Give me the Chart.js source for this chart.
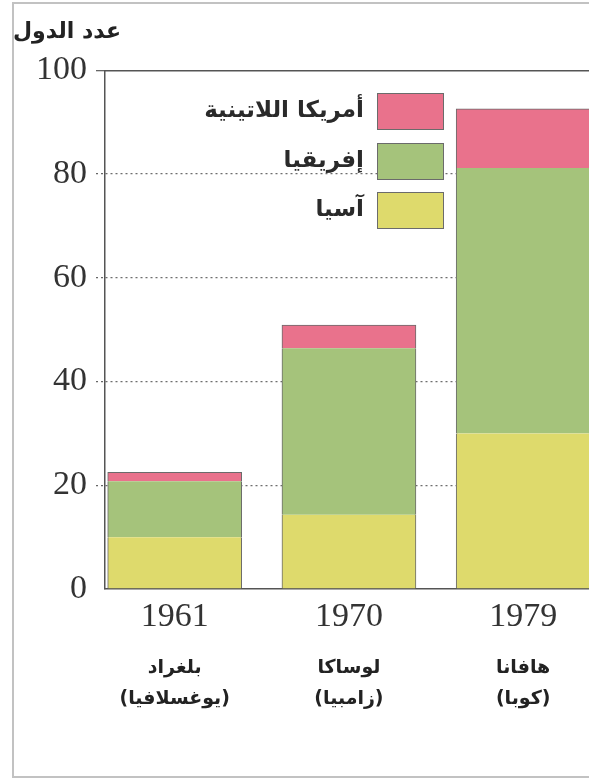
<!DOCTYPE html>
<html lang="ar">
<head>
    <meta charset="UTF-8">
    <meta name="viewport" content="width=device-width, initial-scale=1.0">
    <title>عدد الدول</title>
    <script src="https://cdn.jsdelivr.net/npm/chart.js"></script>
    <style>
        html, body {
            margin: 0;
            padding: 0;
            background: #fff;
            overflow: hidden;
        }

        .wrap {
            position: relative;
            width: 589px;
            height: 779px;
            overflow: hidden;
        }

        .frame {
            position: absolute;
            left: 12px;
            top: 2px;
            width: 700px;
            height: 772px;
            border: 2px solid #c2c2c2;
        }

        #chart {
            position: absolute;
            left: 0;
            top: 0;
        }

        .legend-row {
            position: absolute;
            left: 0;
            width: 444px;
            height: 37px;
        }

        .legend-row .txt {
            position: absolute;
            right: 80px;
            top: 0;
            line-height: 32px;
            font-family: 'DejaVu Sans', sans-serif;
            font-size: 23px;
            font-weight: bold;
            color: #2a2a2a;
            white-space: nowrap;
        }

        .legend-row .box {
            position: absolute;
            left: 377px;
            top: 0;
            width: 65px;
            height: 35px;
            border: 1px solid #6b6b6b;
        }
    </style>
</head>

<body>
    <div class="wrap">
        <div class="frame"></div>
        <canvas id="chart" width="589" height="779"></canvas>
        <div id="legend"></div>
    </div>

    <script>
        // data
        const years = [1961, 1970, 1979];
        const cities = ['بلغراد', 'لوساكا', 'هافانا'];
        const countries = ['(يوغسلافيا)', '(زامبيا)', '(كوبا)'];
        const asia = [10, 14.3, 30];
        const africa = [10.8, 32.1, 51.2];
        const latinAmerica = [1.7, 4.5, 11.4];

        const serif = "'Liberation Serif', 'DejaVu Serif', serif";
        const arabic = "'DejaVu Sans', sans-serif";
        const xMin = 1957.4;
        const xMax = 1982.4;

        function points(values) {
            return values.map((v, i) => ({ x: years[i], y: v }));
        }

        function yearTicks(scale) {
            scale.ticks = years.map(v => ({ value: v }));
        }

        const sides = { top: 0, right: 1, bottom: 0, left: 1 };

        const chart = new Chart(document.getElementById('chart'), {
            type: 'bar',
            data: {
                datasets: [
                    {
                        label: 'آسيا',
                        data: points(asia),
                        backgroundColor: '#DEDA6C',
                        borderColor: '#6b6b6b',
                        borderWidth: sides,
                        borderSkipped: false
                    },
                    {
                        label: 'إفريقيا',
                        data: points(africa),
                        backgroundColor: '#A5C37B',
                        borderColor: '#6b6b6b',
                        borderWidth: sides,
                        borderSkipped: false
                    },
                    {
                        label: 'أمريكا اللاتينية',
                        data: points(latinAmerica),
                        backgroundColor: '#E9728C',
                        borderColor: '#6b6b6b',
                        borderWidth: { top: 1, right: 1, bottom: 0, left: 1 },
                        borderSkipped: false
                    }
                ]
            },
            options: {
                responsive: false,
                animation: false,
                barThickness: 134,
                layout: { padding: { left: 13, right: 0, top: 0, bottom: 0 } },
                plugins: {
                    legend: { display: false },
                    tooltip: { enabled: false },
                    title: {
                        display: true,
                        text: 'عدد الدول',
                        align: 'start',
                        color: '#222',
                        font: { family: arabic, size: 22, weight: 'bold' },
                        padding: { top: 19, bottom: 25 }
                    }
                },
                scales: {
                    x: {
                        type: 'linear',
                        position: 'bottom',
                        stacked: true,
                        offset: false,
                        min: xMin,
                        max: xMax,
                        weight: 0,
                        afterBuildTicks: yearTicks,
                        afterFit: s => { s.height = 40; },
                        grid: { display: false, drawTicks: false },
                        border: { display: true, color: '#555', width: 1.5 },
                        ticks: {
                            padding: 8,
                            maxRotation: 0,
                            autoSkip: false,
                            color: '#333',
                            font: { family: serif, size: 34 },
                            callback: v => String(v)
                        }
                    },
                    places: {
                        type: 'linear',
                        position: 'bottom',
                        offset: false,
                        min: xMin,
                        max: xMax,
                        weight: 1,
                        afterBuildTicks: yearTicks,
                        afterFit: s => { s.height = 150; },
                        grid: { display: false, drawTicks: false },
                        border: { display: false },
                        ticks: {
                            padding: 23,
                            maxRotation: 0,
                            autoSkip: false,
                            color: '#222',
                            font: { family: arabic, size: 19, weight: 'bold', lineHeight: 1.65 },
                            callback: (v, i) => [cities[i], countries[i]]
                        }
                    },
                    top: {
                        type: 'linear',
                        position: 'top',
                        offset: false,
                        min: xMin,
                        max: xMax,
                        grid: { display: false, drawTicks: false },
                        ticks: { display: false },
                        border: { display: true, color: '#555', width: 1.5 }
                    },
                    y: {
                        stacked: true,
                        min: 0,
                        max: 100,
                        afterFit: s => { s.width = 92; },
                        ticks: {
                            stepSize: 20,
                            padding: 9,
                            color: '#333',
                            font: { family: serif, size: 34 }
                        },
                        grid: {
                            color: c => (c.tick.value === 0 || c.tick.value === 100) ? 'rgba(0,0,0,0)' : '#6e6e6e',
                            lineWidth: 1.3,
                            tickLength: 9,
                            tickColor: c => c.tick.value === 0 ? 'rgba(0,0,0,0)' : '#666',
                            tickBorderDash: c => c.tick.value === 100 ? [] : [2, 3]
                        },
                        border: { display: true, color: '#555', width: 1.5, dash: [2, 3] }
                    }
                }
            }
        });

        // legend, top to bottom: latin america, africa, asia
        const legend = document.getElementById('legend');
        chart.data.datasets.slice().reverse().forEach((ds, i) => {
            const row = document.createElement('div');
            row.className = 'legend-row';
            row.style.top = (93 + i * 49.5) + 'px';
            row.innerHTML = '<span class="txt"></span><span class="box"></span>';
            row.querySelector('.txt').textContent = ds.label;
            row.querySelector('.box').style.background = ds.backgroundColor;
            legend.appendChild(row);
        });
    </script>
</body>
</html>
